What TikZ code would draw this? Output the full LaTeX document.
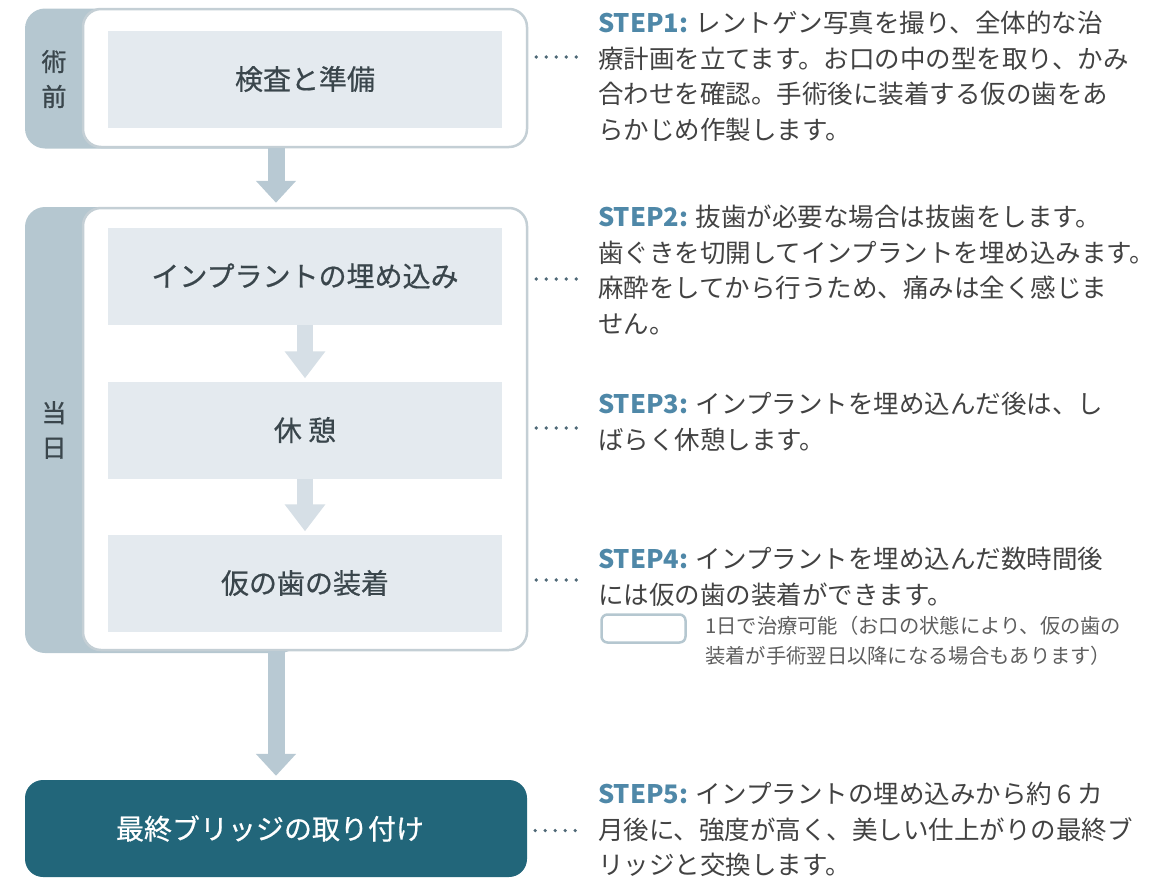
\documentclass[tikz,border=0pt]{standalone}
\usepackage{fontspec}
\setmainfont{Noto Sans CJK JP}
\usetikzlibrary{arrows.meta,calc}

\definecolor{tabgray}{HTML}{B5C7D0}
\definecolor{paneline}{HTML}{C4CFD5}
\definecolor{taskfill}{HTML}{E4EAEF}
\definecolor{innerarrow}{HTML}{D6DFE6}
\definecolor{outerarrow}{HTML}{B8C9D3}
\definecolor{finalteal}{HTML}{22667A}
\definecolor{steplabel}{HTML}{4F88A8}
\definecolor{bodytext}{HTML}{424242}
\definecolor{tasktext}{HTML}{3A464C}
\definecolor{dotgray}{HTML}{4F6977}

\newcommand{\stepno}[1]{{\color{steplabel}\bfseries #1}}

\begin{document}
\begin{tikzpicture}[x=1pt,y=-1pt,
    tab/.style={fill=tabgray, rounded corners=20pt, minimum width=275pt, inner sep=0pt},
    pane/.style={fill=white, draw=paneline, line width=2.5pt, rounded corners=18pt, minimum width=444pt, inner sep=0pt},
    task/.style={fill=taskfill, minimum width=394pt, minimum height=97pt, inner sep=0pt, text=tasktext, font=\fontsize{28}{34}\selectfont\addfontfeature{FakeBold=0.6}},
    tag/.style={text=tasktext, align=center, inner sep=0pt, font=\fontsize{25}{35}\selectfont\addfontfeature{FakeBold=0.8}},
    fatarrow/.style={draw=outerarrow, line width=17pt, -{Triangle[width=39pt,length=22pt]}},
    thinarrow/.style={draw=innerarrow, line width=16pt, -{Triangle[width=39pt,length=27pt]}},
    leader/.style={draw=dotgray, line width=3.6pt, line cap=round, dash pattern=on 0pt off 10pt},
    note/.style={anchor=north west, inner sep=0pt, align=left, text=bodytext, font=\fontsize{25.5}{35.5}\selectfont}
]
\useasboundingbox (0,0) rectangle (1170,878);

% before surgery
\node[tab, minimum height=140pt] (preTab) at (162.5,78.5) {};
\node[pane, minimum height=138pt] (preBox) at (305,78) {};
\node[task] (inspect) at (305,79) {検査と準備};
\node[tag] (preTag) at (54,79) {術\\前};

% on the day
\node[tab, minimum height=446pt] (dayTab) at (162.5,430) {};
\node[pane, minimum height=442pt] (dayBox) at (305,429) {};
\node[task] (implant) at (305,276) {インプラントの埋め込み};
\node[task] (rest) at (305,430) {休 憩};
\node[task] (temp) at (305,583) {仮の歯の装着};
\node[tag] (dayTag) at (54,430) {当\\日};

\node[fill=finalteal, rounded corners=18pt, minimum width=502pt, minimum height=97pt, inner sep=0pt] (final) at (276,828.5) {};
\node[text=white, font=\fontsize{28}{34}\selectfont\addfontfeature{FakeBold=0.6}] (finalText) at (270,828.5) {最終ブリッジの取り付け};

\draw[fatarrow, shorten >=4pt] (preBox.south -| final.north) -- (dayBox.north -| final.north);
\draw[thinarrow, shorten >=3pt] (implant.south) -- (rest.north);
\draw[thinarrow, shorten >=3pt] (rest.south) -- (temp.north);
\draw[fatarrow, shorten >=4pt] (dayBox.south -| final.north) -- (final.north);

% explanations
\node[note] (step1) at (598,11) {\stepno{STEP1:} レントゲン写真を撮り、全体的な治\\療計画を立てます。お口の中の型を取り、かみ\\合わせを確認。手術後に装着する仮の歯をあ\\らかじめ作製します。};
\node[note] (step2) at (598,205) {\stepno{STEP2:} 抜歯が必要な場合は抜歯をします。\\歯ぐきを切開してインプラントを埋め込みます。\\麻酔をしてから行うため、痛みは全く感じま\\せん。};
\node[note] (step3) at (598,392) {\stepno{STEP3:} インプラントを埋め込んだ後は、し\\ばらく休憩します。};
\node[note] (step4) at (598,547) {\stepno{STEP4:} インプラントを埋め込んだ数時間後\\には仮の歯の装着ができます。};
\node[note] (step5) at (598,782) {\stepno{STEP5:} インプラントの埋め込みから約 6 カ\\月後に、強度が高く、美しい仕上がりの最終ブ\\リッジと交換します。};

\draw[leader] ($(preBox.east)+(8,-21)$) -- ++(50,0);
\draw[leader] ($(dayBox.east |- implant.east)+(8,3)$) -- ++(50,0);
\draw[leader] ($(dayBox.east |- rest.east)+(8,-2)$) -- ++(50,0);
\draw[leader] ($(dayBox.east |- temp.east)+(8,-3)$) -- ++(50,0);
\draw[leader] ($(final.east)+(8,2)$) -- ++(50,0);

% legend
\node[draw=tabgray, fill=white, line width=2.5pt, rounded corners=6pt, minimum width=84pt, minimum height=28pt] (legendBox) at (643.5,628.5) {};
\node[note, text=bodytext!85, font=\fontsize{20.3}{30}\selectfont] (legendNote) at (705,615.5) {1日で治療可能（お口の状態により、仮の歯の\\装着が手術翌日以降になる場合もあります）};
\end{tikzpicture}
\end{document}
